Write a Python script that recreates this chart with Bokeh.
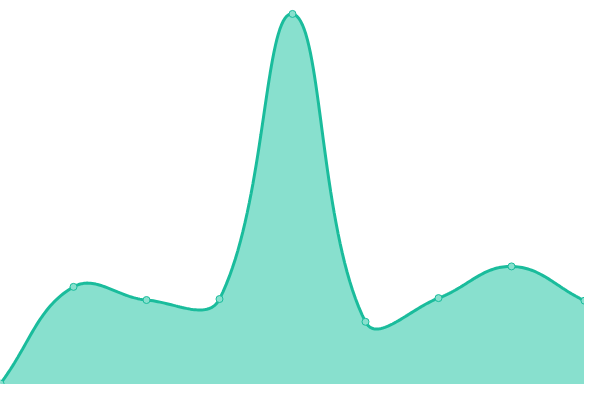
import numpy as np
from bokeh.plotting import figure
from bokeh.models import Range1d
from bokeh.embed import file_html
from bokeh.resources import INLINE

# data
categories = list(range(9))
values = [1, 101.7, 88, 89, 386, 65.3, 90, 123, 87.3]

W, H = 584, 384
Y_MAX = 400
TENSION = 0.4
LINE_COLOR = "#1ABC9C"
FILL_COLOR = "#88E0CE"

p = figure(width=W, height=H, output_backend="svg", toolbar_location=None,
           x_range=Range1d(0, len(categories) - 1), y_range=Range1d(0, Y_MAX),
           min_border=0, min_border_left=0, min_border_right=0,
           min_border_top=0, min_border_bottom=0)
p.axis.visible = False
p.grid.visible = False
p.outline_line_color = None
p.background_fill_color = "white"
p.border_fill_color = "white"

# screen-space points for spline control computation
kx = W / (len(categories) - 1)
ky = H / Y_MAX
pts = [(c * kx, v * ky) for c, v in zip(categories, values)]
n = len(pts)
cps = []
for i in range(n):
    prev = pts[i - 1] if i > 0 else pts[i]
    cur = pts[i]
    nxt = pts[i + 1] if i < n - 1 else pts[i]
    d01 = np.hypot(cur[0] - prev[0], cur[1] - prev[1])
    d12 = np.hypot(nxt[0] - cur[0], nxt[1] - cur[1])
    tot = d01 + d12
    s01 = d01 / tot if tot else 0
    s12 = d12 / tot if tot else 0
    fa, fb = TENSION * s01, TENSION * s12
    cp_prev = (cur[0] - fa * (nxt[0] - prev[0]), cur[1] - fa * (nxt[1] - prev[1]))
    cp_next = (cur[0] + fb * (nxt[0] - prev[0]), cur[1] + fb * (nxt[1] - prev[1]))
    clamp = lambda q: (min(max(q[0], 0), W), min(max(q[1], 0), H))
    cps.append((clamp(cp_prev), clamp(cp_next)))

xs, ys = [], []
t = np.linspace(0, 1, 40)
for i in range(n - 1):
    p0 = np.array(pts[i]); p3 = np.array(pts[i + 1])
    p1 = np.array(cps[i][1]); p2 = np.array(cps[i + 1][0])
    seg = ((1 - t) ** 3)[:, None] * p0 + (3 * (1 - t) ** 2 * t)[:, None] * p1 \
        + (3 * (1 - t) * t ** 2)[:, None] * p2 + (t ** 3)[:, None] * p3
    if i > 0:
        seg = seg[1:]
    xs.extend(seg[:, 0] / kx)
    ys.extend(seg[:, 1] / ky)

p.varea(x=xs, y1=[0] * len(xs), y2=ys, fill_color=FILL_COLOR, fill_alpha=1.0)
p.line(xs, ys, line_color=LINE_COLOR, line_width=3)
p.scatter(categories, values, size=7, fill_color=FILL_COLOR,
          line_color=LINE_COLOR, line_width=1)

open("out.html", "w").write(file_html(p, INLINE))
